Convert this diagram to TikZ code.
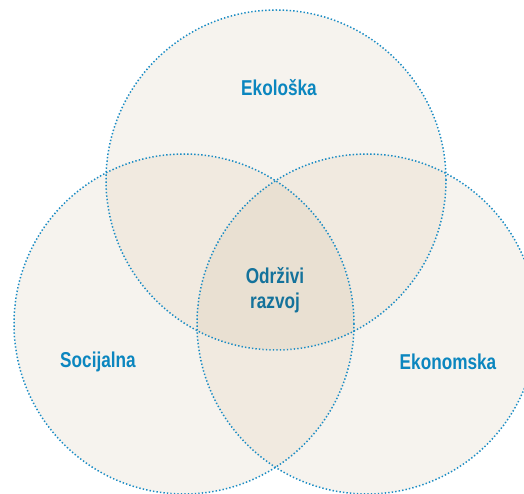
\documentclass[tikz,border=0pt]{standalone}
\usepackage{fontspec}
\usepackage{tikz}
\usepackage{tkz-euclide}
\usepackage{xcolor}

\newfontfamily\vennfont[FakeStretch=0.8]{Liberation Sans}
\definecolor{vennline}{HTML}{1A8CC4}
\definecolor{venntext}{HTML}{0B86BF}
\definecolor{venncore}{HTML}{14729B}
\definecolor{vennone}{HTML}{F6F3EE}
\definecolor{venntwo}{HTML}{F1EAE0}
\definecolor{vennthree}{HTML}{E9E0D2}
\tikzset{
  venn dots/.style={draw=vennline, line width=1.5pt, dash pattern=on 1.4pt off 2.1pt},
  venn label/.style={font=\vennfont\bfseries\fontsize{21.5}{25}\selectfont, text=venntext, align=center, inner sep=0pt}
}

\begin{document}
\begin{tikzpicture}[x=1pt,y=1pt]
        \path[use as bounding box] (0,0) rectangle (524,493);
        \clip (0,0) rectangle (524,493);
        \tkzDefPoints{276/313/E, 184/169/S, 367/169/K, 446/313/e, 354/169/s, 537/169/k}
        \tkzFillCircle[fill=vennone](E,e)
        \tkzFillCircle[fill=vennone](S,s)
        \tkzFillCircle[fill=vennone](K,k)
        % two-way overlaps
        \begin{scope}
          \tkzClipCircle(E,e)
          \tkzFillCircle[fill=venntwo](S,s)
          \tkzFillCircle[fill=venntwo](K,k)
        \end{scope}
        \begin{scope}
          \tkzClipCircle(S,s)
          \tkzFillCircle[fill=venntwo](K,k)
        \end{scope}
        % common part
        \begin{scope}
          \tkzClipCircle(E,e)
          \tkzClipCircle(S,s)
          \tkzFillCircle[fill=vennthree](K,k)
        \end{scope}
        \tkzDrawCircles[venn dots](E,e S,s K,k)
        \node[venn label] (eko) at (279,405) {Ekološka};
        \node[venn label] (soc) at (98,131) {Socijalna};
        \node[venn label] (ekon) at (448,131) {Ekonomska};
        \node[venn label, text=venncore] (odr) at (275,203) {Održivi\\razvoj};
\end{tikzpicture}
\end{document}
